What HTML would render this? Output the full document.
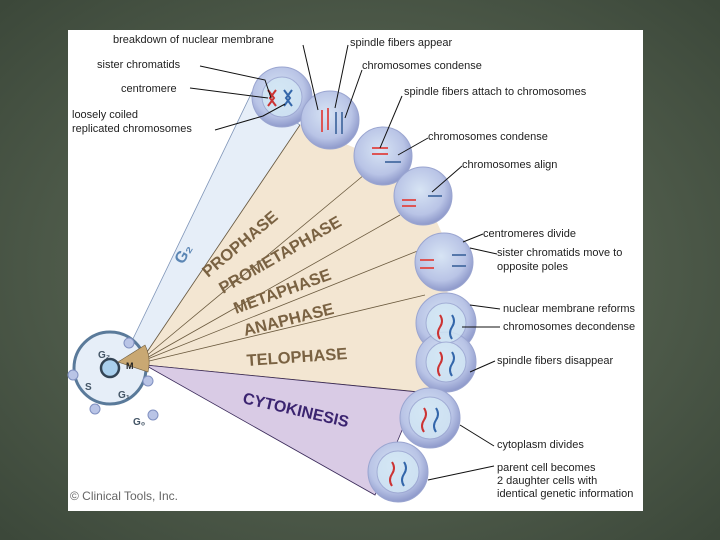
<!DOCTYPE html>
<html><head><style>
body{margin:0;width:720px;height:540px;overflow:hidden;background:#5d6b58;}
svg{display:block}
text{font-family:"Liberation Sans",sans-serif}
</style></head><body>
<svg width="720" height="540" viewBox="0 0 720 540">
<defs>
<radialGradient id="bg" cx="50%" cy="50%" r="70%"><stop offset="0" stop-color="#66735f"/><stop offset="1" stop-color="#3c483a"/></radialGradient>
<radialGradient id="cell" cx="45%" cy="40%" r="60%"><stop offset="0" stop-color="#d7e4f4"/><stop offset="0.7" stop-color="#b9c4e6"/><stop offset="1" stop-color="#8f9acb"/></radialGradient>
</defs>
<rect width="720" height="540" fill="url(#bg)"/>
<rect x="68" y="30" width="575" height="481" fill="#fff"/>
<polygon points="130,345 252,92 300,125 145,355" fill="#e6eef8" stroke="#7f95b8" stroke-width="0.8"/>
<polygon points="145,355 300,125 360,150 420,185 445,240 448,300 445,390 418,395 145,365" fill="#f3e6d2"/>
<g stroke="#6b5a3e" stroke-width="0.8" fill="none">
<line x1="145" y1="355" x2="300" y2="125"/>
<line x1="145" y1="357" x2="370" y2="170"/>
<line x1="145" y1="359" x2="400" y2="215"/>
<line x1="145" y1="360" x2="420" y2="250"/>
<line x1="145" y1="362" x2="425" y2="295"/>
<line x1="145" y1="365" x2="420" y2="392"/>
</g>
<polygon points="145,365 418,392 375,495" fill="#d9cbe5" stroke="#3a2a5a" stroke-width="0.8"/>
<circle cx="110" cy="368" r="36" fill="#e6eef8" stroke="#5a7a9a" stroke-width="3"/>
<circle cx="110" cy="368" r="9" fill="#aad0ee" stroke="#345" stroke-width="2.5"/>
<path d="M118,362 L145,345 A40,40 0 0 1 148,372 Z" fill="#c9a873" stroke="#6b5a3e" stroke-width="0.6"/>
<g fill="#b9c4e6" stroke="#8090c0"><circle cx="129" cy="343" r="5"/><circle cx="73" cy="375" r="5"/><circle cx="95" cy="409" r="5"/><circle cx="148" cy="381" r="5"/><circle cx="153" cy="415" r="5"/></g>
<text x="98" y="358" font-size="10" font-weight="bold" fill="#456">G₂</text>
<text x="85" y="390" font-size="10" font-weight="bold" fill="#456">S</text>
<text x="118" y="398" font-size="10" font-weight="bold" fill="#456">G₁</text>
<text x="133" y="425" font-size="10" font-weight="bold" fill="#456">G₀</text>
<text x="126" y="369" font-size="9" font-weight="bold" fill="#222">M</text>
<g fill="url(#cell)" stroke="#9aa5d0">
<circle cx="282" cy="97" r="30"/><circle cx="330" cy="120" r="29"/><circle cx="383" cy="156" r="29"/>
<circle cx="423" cy="196" r="29"/><circle cx="444" cy="262" r="29"/>
<circle cx="446" cy="323" r="30"/><circle cx="446" cy="362" r="30"/>
<circle cx="430" cy="418" r="30"/><circle cx="398" cy="472" r="30"/>
</g>
<g fill="#d3e8f5" stroke="#9aa5d0" opacity="0.8">
<circle cx="282" cy="97" r="20"/><circle cx="446" cy="323" r="20"/><circle cx="446" cy="362" r="20"/>
<circle cx="430" cy="418" r="21"/><circle cx="398" cy="472" r="21"/>
</g>
<g fill="none" stroke-width="2">
<path d="M268,90 l6,8 l-6,8 M276,90 l-6,8 l6,8" stroke="#c33"/><path d="M284,90 l6,8 l-6,8 M292,90 l-6,8 l6,8" stroke="#36a"/>
<path d="M322,110 v22 M328,108 v22" stroke="#d55"/><path d="M336,112 v22 M342,112 v22" stroke="#57a"/>
<path d="M372,148 h16 M372,154 h16" stroke="#d55"/><path d="M385,162 h16" stroke="#57a"/>
<path d="M402,200 h14 M402,206 h14" stroke="#d55"/><path d="M428,196 h14" stroke="#57a"/>
<path d="M420,260 h14 M420,268 h14" stroke="#d55"/><path d="M452,255 h14 M452,266 h14" stroke="#57a"/>
<path d="M440,315 q4,6 0,12 q-4,6 0,12" stroke="#c33"/><path d="M452,315 q4,6 0,12 q-4,6 0,12" stroke="#36a"/>
<path d="M440,352 q4,6 0,12 q-4,6 0,12" stroke="#c33"/><path d="M452,352 q4,6 0,12 q-4,6 0,12" stroke="#36a"/>
<path d="M424,408 q4,6 0,12 q-4,6 0,12" stroke="#c33"/><path d="M436,408 q4,6 0,12 q-4,6 0,12" stroke="#36a"/>
<path d="M392,462 q4,6 0,12 q-4,6 0,12" stroke="#c33"/><path d="M404,462 q4,6 0,12 q-4,6 0,12" stroke="#36a"/>
</g>
<g font-weight="bold" fill="#7a6242" font-size="16.5">
<text transform="translate(208,278) rotate(-40)">PROPHASE</text>
<text transform="translate(223,294) rotate(-30)">PROMETAPHASE</text>
<text transform="translate(236,314) rotate(-20)">METAPHASE</text>
<text transform="translate(245,336) rotate(-14)">ANAPHASE</text>
<text transform="translate(247,366) rotate(-4)">TELOPHASE</text>
</g>
<text transform="translate(183,265) rotate(-60)" font-size="16" font-weight="bold" fill="#5b86b4">G₂</text>
<text transform="translate(242,403) rotate(13)" font-size="16" font-weight="bold" fill="#3b2470">CYTOKINESIS</text>
<g font-size="11" fill="#222">
<text x="113" y="43">breakdown of nuclear membrane</text>
<text x="97" y="68">sister chromatids</text>
<text x="121" y="92">centromere</text>
<text x="72" y="118">loosely coiled</text>
<text x="72" y="132">replicated chromosomes</text>
<text x="350" y="46">spindle fibers appear</text>
<text x="362" y="69">chromosomes condense</text>
<text x="404" y="95">spindle fibers attach to chromosomes</text>
<text x="428" y="140">chromosomes condense</text>
<text x="462" y="168">chromosomes align</text>
<text x="483" y="237">centromeres divide</text>
<text x="497" y="256">sister chromatids move to</text>
<text x="497" y="270">opposite poles</text>
<text x="503" y="312">nuclear membrane reforms</text>
<text x="503" y="330">chromosomes decondense</text>
<text x="497" y="364">spindle fibers disappear</text>
<text x="497" y="448">cytoplasm divides</text>
<text x="497" y="471">parent cell becomes</text>
<text x="497" y="484">2 daughter cells with</text>
<text x="497" y="497">identical genetic information</text>
</g>
<text x="70" y="500" font-size="12" fill="#666">© Clinical Tools, Inc.</text>
<g stroke="#111" fill="none" stroke-width="1">
<path d="M303,45 L318,110"/><path d="M348,45 L335,108"/><path d="M362,70 L345,118"/>
<path d="M200,66 L265,80 L271,98"/><path d="M190,88 L268,98"/><path d="M215,130 L263,116 L285,104"/>
<path d="M402,96 L380,148"/><path d="M428,138 L398,155"/><path d="M462,166 L432,192"/>
<path d="M483,234 L463,242"/><path d="M497,254 L470,248"/>
<path d="M500,309 L470,305"/><path d="M500,327 L462,327"/><path d="M495,361 L470,372"/>
<path d="M494,446 L460,425"/><path d="M494,466 L428,480"/>
</g>
</svg>
</body></html>
